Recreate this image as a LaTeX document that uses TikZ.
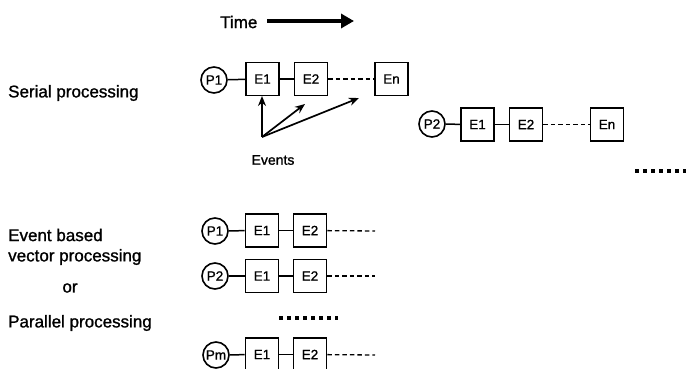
\documentclass[tikz,border=0pt]{standalone}
\usepackage{fontspec}
\setmainfont{Liberation Sans}[FakeBold=1.2]
\usetikzlibrary{arrows.meta}
\begin{document}
\begin{tikzpicture}[x=1pt,y=-1pt,
  lab/.style={anchor=west,inner sep=0pt,font=\fontsize{17}{20}\selectfont},
  proc/.style={circle,draw,line width=1.6pt,minimum size=26pt,inner sep=0pt,font=\fontsize{13.5}{15}\selectfont},
  ev/.style={rectangle,draw,line width=1.6pt,minimum size=33pt,inner sep=0pt,font=\fontsize{13.5}{15}\selectfont},
  link/.style={line width=1.5pt},
  dashlink/.style={line width=1.3pt,dash pattern=on 4.5pt off 3pt},
  bigdots/.style={line width=4pt,dash pattern=on 4pt off 4pt},
  evarrow/.style={line width=1.7pt,-{Stealth[length=10pt,width=8pt]}}]
\useasboundingbox (0,0) rectangle (686,369);
\begin{scope}
\clip (0,0) rectangle (686,369);
% Time arrow
\node[lab] (time) at (220,22) {Time};
\coordinate (ta) at (267,21);
\coordinate (tb) at (354,21);
\draw[line width=4.5pt,-{Triangle[length=13pt,width=14pt]}] (ta) -- (tb);
% labels
\node[lab] (serial) at (8,93) {Serial processing};
\node[lab] (eb) at (8,235) {Event based};
\node[lab] (vp) at (8,257) {vector processing};
\node[inner sep=0pt,font=\fontsize{17}{20}\selectfont] (or) at (70,288) {or};
\node[lab] (pp) at (8,323) {Parallel processing};
% serial row 1
\node[proc] (sp1) at (214,80) {P1};
\node[ev] (s1e1) at (262.5,79) {E1};
\node[ev] (s1e2) at (311,79) {E2};
\node[ev] (s1en) at (391.5,79) {En};
\draw[link] (sp1) -- (s1e1);
\draw[link] (s1e1) -- (s1e2);
\draw[dashlink] (s1e2) -- (s1en);
% events arrows
\coordinate (eo) at (262,137);
\coordinate (ea1) at (262,96);
\coordinate (ea2) at (305,104);
\coordinate (ea3) at (359,98);
\draw[evarrow] (eo) -- (ea1);
\draw[evarrow] (eo) -- (ea2);
\draw[evarrow] (eo) -- (ea3);
\node[inner sep=0pt,font=\fontsize{14}{16}\selectfont] (events) at (273,160) {Events};
% serial row 2
\node[proc] (sp2) at (432,124) {P2};
\node[ev] (s2e1) at (477.5,124.5) {E1};
\node[ev] (s2e2) at (526,124.5) {E2};
\node[ev] (s2en) at (607,124.5) {En};
\draw[link] (sp2) -- (s2e1);
\draw[link] (s2e1) -- (s2e2);
\draw[dashlink] (s2e2) -- (s2en);
\coordinate (rd1) at (635,171);
\coordinate (rd2) at (690,171);
\draw[bigdots] (rd1) -- (rd2);
% parallel rows
\node[proc] (pp1) at (215,231) {P1};
\node[ev] (p1e1) at (262,230.5) {E1};
\node[ev] (p1e2) at (310,230.5) {E2};
\coordinate (p1end) at (375,231);
\draw[link] (pp1) -- (p1e1);
\draw[link] (p1e1) -- (p1e2);
\draw[dashlink] (p1e2) -- (p1end);
\node[proc] (pp2) at (215,276) {P2};
\node[ev] (p2e1) at (262,276) {E1};
\node[ev] (p2e2) at (310,276) {E2};
\coordinate (p2end) at (375,276);
\draw[link] (pp2) -- (p2e1);
\draw[link] (p2e1) -- (p2e2);
\draw[dashlink] (p2e2) -- (p2end);
\coordinate (md1) at (279,318);
\coordinate (md2) at (338,318);
\draw[bigdots] (md1) -- (md2);
\node[proc] (ppm) at (216,355) {Pm};
\node[ev] (pme1) at (262,354.5) {E1};
\node[ev] (pme2) at (310,354.5) {E2};
\coordinate (pmend) at (375,355);
\draw[link] (ppm) -- (pme1);
\draw[link] (pme1) -- (pme2);
\draw[dashlink] (pme2) -- (pmend);
\end{scope}
\end{tikzpicture}
\end{document}
